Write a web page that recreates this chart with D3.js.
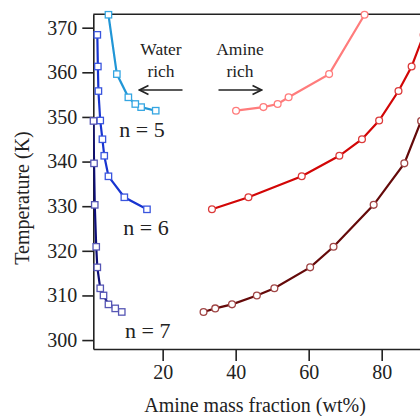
<!DOCTYPE html>
<html lang="en">

<head>
    <meta charset="UTF-8">
    <title>Amine / water coexistence curves</title>
    <style>
        body {
            margin: 0;
            padding: 0;
            background: #fff;
        }

        svg {
            display: block;
            font-family: "Liberation Serif", "DejaVu Serif", serif;
        }
    </style>
</head>

<body>

    <svg width="420" height="416"></svg>

    <script src="https://d3js.org/d3.v7.min.js"></script>
    <script>
        // Temperatures (K) of each tie line, with water-rich and amine-rich compositions (wt%)
        const tempN5 = [351.4, 352.2, 352.9, 354.4, 359.6, 372.9];
        const waterN5 = [18.1, 14.1, 12.5, 10.6, 7.45, 5.15];
        const amineN5 = [40.1, 47.6, 51.5, 54.5, 65.6, 75.3];

        const tempN6 = [329.3, 332.0, 336.7, 341.3, 345.0, 349.2, 355.8, 361.3, 368.4];
        const waterN6 = [15.7, 9.5, 5.15, 4.0, 3.5, 2.9, 2.4, 2.25, 2.1];
        const amineN6 = [33.5, 43.5, 58.1, 68.4, 74.6, 79.3, 84.6, 88.2, 91.5];

        const tempN7 = [306.3, 307.1, 308.0, 310.0, 311.6, 316.3, 320.9, 330.3, 339.6, 349.1];
        const waterN7 = [8.8, 7.0, 5.15, 3.8, 2.9, 2.1, 1.8, 1.4, 1.2, 1.05];
        const amineN7 = [31.2, 34.4, 39.0, 45.8, 50.6, 60.4, 66.8, 77.8, 86.2, 90.8];

        const xTicks = [20, 40, 60, 80];
        const yTicks = [300, 310, 320, 330, 340, 350, 360, 370];

        const svg = d3.select("svg");

        const x = d3.scaleLinear().domain([1, 92]).range([93.3, 425.5]);
        const y = d3.scaleLinear().domain([298, 373]).range([349, 14.3]);

        // series: which phase, colours, marker
        const series = [
            { temp: tempN5, comp: waterN5, line: "#2196d6", mark: "#35a6e2", shape: "square" },
            { temp: tempN6, comp: waterN6, line: "#1834d0", mark: "#3a55de", shape: "square" },
            { temp: tempN7, comp: waterN7, line: "#0e0e78", mark: "#5656b4", shape: "square" },
            { temp: tempN5, comp: amineN5, line: "#ff7c7c", mark: "#ff7c7c", shape: "circle" },
            { temp: tempN6, comp: amineN6, line: "#d20606", mark: "#dc3a3a", shape: "circle" },
            { temp: tempN7, comp: amineN7, line: "#650a0a", mark: "#a04545", shape: "circle" }
        ];

        svg.append("defs").append("clipPath").attr("id", "plot")
            .append("rect")
            .attr("x", x.range()[0]).attr("y", y.range()[1])
            .attr("width", x.range()[1] - x.range()[0])
            .attr("height", y.range()[0] - y.range()[1]);

        // axes
        const xAxis = svg.append("g")
            .attr("transform", `translate(0,${y.range()[0]})`)
            .call(d3.axisBottom(x).tickValues(xTicks).tickSize(12).tickPadding(4).tickSizeOuter(0));
        const yAxis = svg.append("g")
            .attr("transform", `translate(${x.range()[0]},0)`)
            .call(d3.axisLeft(y).tickValues(yTicks).tickSize(11).tickPadding(5).tickSizeOuter(0));

        [xAxis, yAxis].forEach(g => {
            g.selectAll("path, line").attr("stroke", "#222").attr("stroke-width", 1.6);
            g.selectAll("text")
                .attr("fill", "#222")
                .style("font-family", "Liberation Serif")
                .style("font-size", "20px");
        });

        // top frame line
        svg.append("line")
            .attr("x1", x.range()[0]).attr("x2", x.range()[1])
            .attr("y1", y.range()[1]).attr("y2", y.range()[1])
            .attr("stroke", "#222").attr("stroke-width", 1.6);

        const line = d3.line()
            .x(d => x(d[0]))
            .y(d => y(d[1]));

        series.forEach(s => {
            const pts = s.comp.map((c, i) => [c, s.temp[i]]);
            svg.append("path")
                .datum(pts)
                .attr("clip-path", "url(#plot)")
                .attr("fill", "none")
                .attr("stroke", s.line)
                .attr("stroke-width", 2.2)
                .attr("d", line);

            if (s.shape === "square") {
                svg.selectAll(null)
                    .data(pts)
                    .enter().append("rect")
                    .attr("x", d => x(d[0]) - 3.2)
                    .attr("y", d => y(d[1]) - 3.2)
                    .attr("width", 6.4).attr("height", 6.4)
                    .attr("fill", "#fff")
                    .attr("stroke", s.mark)
                    .attr("stroke-width", 1.3);
            } else {
                svg.selectAll(null)
                    .data(pts)
                    .enter().append("circle")
                    .attr("cx", d => x(d[0]))
                    .attr("cy", d => y(d[1]))
                    .attr("r", 3.4)
                    .attr("fill", "#fff")
                    .attr("stroke", s.mark)
                    .attr("stroke-width", 1.3);
            }
        });

        // labels
        const labels = [
            { text: "n = 5", at: [8.1, 345.5] },
            { text: "n = 6", at: [9.2, 323.6] },
            { text: "n = 7", at: [9.7, 300.5] }
        ];
        svg.selectAll(null)
            .data(labels)
            .enter().append("text")
            .attr("x", d => x(d.at[0]))
            .attr("y", d => y(d.at[1]))
            .attr("fill", "#222")
            .style("font-size", "22px")
            .text(d => d.text);

        const notes = [
            { lines: ["Water", "rich"], cx: 161, dir: -1 },
            { lines: ["Amine", "rich"], cx: 240, dir: 1 }
        ];
        svg.append("defs").append("marker")
            .attr("id", "head")
            .attr("viewBox", "0 0 10 10")
            .attr("refX", 9).attr("refY", 5)
            .attr("markerWidth", 7).attr("markerHeight", 7)
            .attr("orient", "auto")
            .append("path")
            .attr("d", "M1,1 L9,5 L1,9")
            .attr("fill", "none")
            .attr("stroke", "#222")
            .attr("stroke-width", 1.4);

        notes.forEach(n => {
            n.lines.forEach((t, i) => {
                svg.append("text")
                    .attr("x", n.cx).attr("y", 55 + i * 22)
                    .attr("text-anchor", "middle")
                    .attr("fill", "#222")
                    .style("font-size", "17.5px")
                    .text(t);
            });
            const x0 = n.cx - n.dir * 21.5, x1 = n.cx + n.dir * 21.5;
            svg.append("line")
                .attr("x1", x0).attr("x2", x1)
                .attr("y1", 90).attr("y2", 90)
                .attr("stroke", "#222").attr("stroke-width", 1.6)
                .attr("marker-end", "url(#head)");
        });

        // axis titles
        svg.append("text")
            .attr("x", 255).attr("y", 412)
            .attr("text-anchor", "middle")
            .attr("fill", "#222")
            .style("font-size", "20px")
            .text("Amine mass fraction (wt%)");

        svg.append("text")
            .attr("transform", "translate(29,198) rotate(-90)")
            .attr("text-anchor", "middle")
            .attr("fill", "#222")
            .style("font-size", "20px")
            .text("Temperature (K)");
    </script>

</body>

</html>
